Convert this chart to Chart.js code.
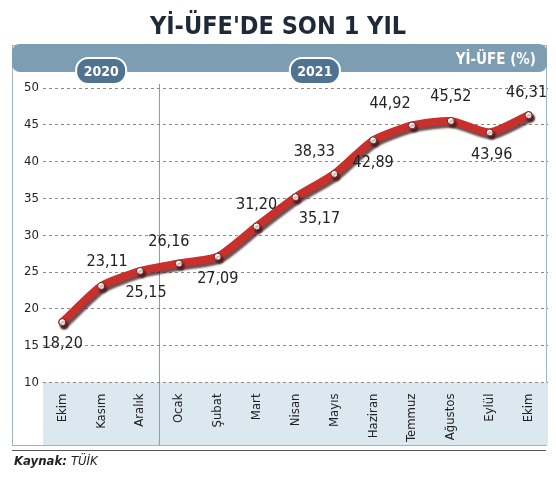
<!DOCTYPE html>
<html><head><meta charset="utf-8">
<script src="https://cdn.jsdelivr.net/npm/chart.js@4"></script>
<style>body{margin:0;background:#fff}canvas{display:block}</style>
</head><body>
<canvas id="c" width="556" height="481"></canvas>
<script>
const months=["Ekim","Kasım","Aralık","Ocak","Şubat","Mart","Nisan","Mayıs","Haziran","Temmuz","Ağustos","Eylül","Ekim"];
const values=[18.20,23.11,25.15,26.16,27.09,31.20,35.17,38.33,42.89,44.92,45.52,43.96,46.31];
const labelDx=[0,6,6,-10,0,0,24,-20,0,-22,0,2,-2];
const labelDy=[22,-24,22,-22,22,-22,22,-22,22,-22,-24,22,-22];
const yTicks=[10,15,20,25,30,35,40,45,50];
const years=[{t:"2020",i:1},{t:"2021",i:6.5}];

function rr(ctx,x,y,w,h,r){ctx.beginPath();ctx.moveTo(x+r,y);ctx.arcTo(x+w,y,x+w,y+h,r);ctx.arcTo(x+w,y+h,x,y+h,r);ctx.arcTo(x,y+h,x,y,r);ctx.arcTo(x,y,x+w,y,r);ctx.closePath();}

const deco={id:'deco',
beforeDraw(ch){const c=ch.ctx,a=ch.chartArea;c.save();
 c.fillStyle='#fff';c.fillRect(0,0,556,481);
 c.strokeStyle='#9fb3c2';c.lineWidth=1;c.strokeRect(12.5,45.5,534,400);
 c.fillStyle='#7d9db2';rr(c,12,44,535,28,8);c.fill();
 c.fillStyle='#dce8f0';c.fillRect(a.left,a.bottom,a.right-a.left,445-a.bottom);
 c.fillStyle='#1e2a38';c.font='bold 25px "Liberation Sans Narrow","DejaVu Sans Condensed",sans-serif';c.textAlign='center';c.textBaseline='alphabetic';
 c.fillText("Yİ-ÜFE'DE SON 1 YIL",278,34);
 c.fillStyle='#fff';c.font='bold 15px "DejaVu Sans Condensed",sans-serif';c.textAlign='right';c.fillText("Yİ-ÜFE (%)",536,64);
 c.textAlign='left';c.fillStyle='#222';c.font='italic bold 13px "DejaVu Sans Condensed",sans-serif';c.fillText("Kaynak:",14,465);
 const w=c.measureText("Kaynak: ").width;c.font='italic 13px "DejaVu Sans Condensed",sans-serif';c.fillText("TÜİK",14+w,465);
 c.strokeStyle='#555';c.beginPath();c.moveTo(12,450.5);c.lineTo(546,450.5);c.stroke();
 const xs=ch.scales.x;
 years.forEach(y=>{const x=xs.getPixelForValue(y.i);c.fillStyle='#4f7390';rr(c,x-25,58,50,26,12);c.fill();c.strokeStyle='#fff';c.lineWidth=2;c.stroke();
  c.fillStyle='#fff';c.font='bold 14px "DejaVu Sans Condensed",sans-serif';c.textAlign='center';c.textBaseline='middle';c.fillText(y.t,x,72);});
 const vx=(xs.getPixelForValue(2)+xs.getPixelForValue(3))/2;c.strokeStyle='#8a9aa8';c.lineWidth=1;c.beginPath();c.moveTo(vx,84);c.lineTo(vx,445);c.stroke();
 c.restore();},
beforeDatasetDraw(ch){const c=ch.ctx;c.save();c.shadowColor='rgba(60,20,20,0.75)';c.shadowOffsetX=2;c.shadowOffsetY=3;c.shadowBlur=2;},
afterDatasetDraw(ch){ch.ctx.restore();},
afterDraw(ch){const c=ch.ctx,m=ch.getDatasetMeta(0);c.save();c.fillStyle='#222';c.font='16px "DejaVu Sans Condensed",sans-serif';c.textAlign='center';c.textBaseline='middle';
 m.data.forEach((p,i)=>{const s=values[i].toFixed(2).replace('.',',');c.fillText(s,p.x+labelDx[i],p.y+labelDy[i]);});c.restore();}
};

new Chart(document.getElementById('c'),{type:'line',
data:{labels:months,datasets:[{data:values,borderColor:'#c9302c',borderWidth:8,tension:0.2,pointRadius:3.5,pointBackgroundColor:'#fff',pointBorderColor:'#7a1a1a',pointBorderWidth:1,borderCapStyle:'round'}]},
options:{responsive:false,animation:false,layout:{padding:{top:88,right:8,left:20,bottom:36}},
plugins:{legend:{display:false},tooltip:{enabled:false}},
scales:{x:{offset:true,grid:{display:false},border:{display:false},ticks:{minRotation:90,maxRotation:90,color:'#222',font:{size:13,family:'"DejaVu Sans Condensed",sans-serif'}}},
y:{min:10,max:50,afterBuildTicks(s){s.ticks=yTicks.map(v=>({value:v}))},grid:{color:'#8a8a8a',drawTicks:false},border:{display:false,dash:[3,3]},ticks:{color:'#222',padding:4,font:{size:13,family:'"DejaVu Sans Condensed",sans-serif'}}}}},
plugins:[deco]});
</script>
</body></html>
